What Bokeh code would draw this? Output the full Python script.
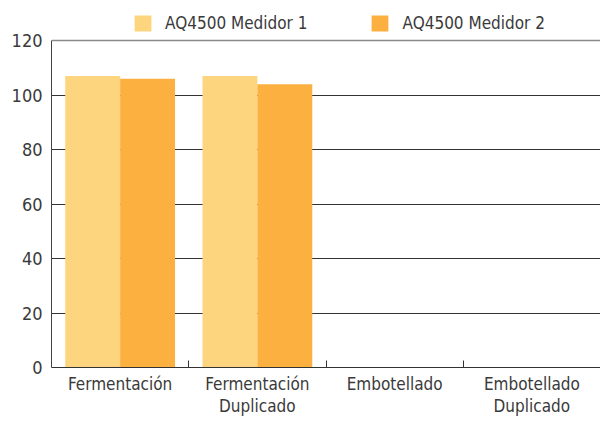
from bokeh.plotting import figure
from bokeh.models import (FactorRange, Range1d, LinearAxis, CategoricalAxis, FixedTicker,
                          Legend, LegendItem, Grid, ColumnDataSource, CustomLabelingPolicy)
from bokeh.transform import dodge
from bokeh.embed import file_html
from bokeh.resources import INLINE

categories = ["Fermentación", "Fermentación\nDuplicado", "Embotellado", "Embotellado\nDuplicado"]
series_names = ["AQ4500 Medidor 1", "AQ4500 Medidor 2"]
medidor1 = [107, 107, None, None]
medidor2 = [106, 104, None, None]
y_ticks = [0, 20, 40, 60, 80, 100, 120]
colors = ["#FDD57E", "#FBB040"]

FONT = "DejaVu Sans Condensed"
TXT = "#3a3a3a"

# the frame reaches the top of the canvas so that the legend (drawn inside it) is not clipped;
# the value axis itself is bounded to 0..120
p = figure(x_range=FactorRange(factors=categories, range_padding=0),
           y_range=Range1d(0, 134.7),
           width=600, height=421, output_backend="svg", toolbar_location=None,
           x_axis_location=None, y_axis_location=None,
           min_border_left=51, min_border_right=0, min_border_top=0, min_border_bottom=54)
p.outline_line_color = None
p.xgrid.visible = False
p.ygrid.visible = False

source = ColumnDataSource(dict(cat=categories, m1=medidor1, m2=medidor2))
r1 = p.vbar(x=dodge("cat", -0.2, range=p.x_range), top="m1", width=0.4, source=source,
            fill_color=colors[0], line_color=None)
r2 = p.vbar(x=dodge("cat", 0.2, range=p.x_range), top="m2", width=0.4, source=source,
            fill_color=colors[1], line_color=None)

p.add_layout(Grid(dimension=1, ticker=FixedTicker(ticks=y_ticks[1:-1]),
                  grid_line_color="#333333", grid_line_width=1), "center")
p.add_layout(Grid(dimension=1, ticker=FixedTicker(ticks=y_ticks[-1:]),
                  grid_line_color="#8a8a8a", grid_line_width=1.5), "center")

yax = LinearAxis(ticker=FixedTicker(ticks=y_ticks), bounds=(y_ticks[0], y_ticks[-1]),
                 major_tick_in=0, major_tick_out=0,
                 minor_tick_line_color=None, axis_line_color="#444444",
                 major_label_standoff=9, major_label_text_font=FONT,
                 major_label_text_font_size="18px", major_label_text_color=TXT)
p.add_layout(yax, "left")

no_labels = CustomLabelingPolicy(code="""
for (const i of indices) { indices.unset(i) }
return indices
""")
tax = LinearAxis(ticker=FixedTicker(ticks=list(range(1, len(categories)))),
                 major_tick_in=7, major_tick_out=0, minor_tick_line_color=None,
                 axis_line_color="#333333", major_tick_line_color="#333333",
                 major_label_policy=no_labels, major_label_text_font_size="1px",
                 major_label_standoff=0)
p.add_layout(tax, "below")

cax = CategoricalAxis(axis_line_color=None, major_tick_line_color=None, minor_tick_line_color=None,
                      major_tick_in=0, major_tick_out=0, major_label_standoff=2,
                      major_label_text_font=FONT, major_label_text_font_size="17px",
                      major_label_text_color=TXT, major_label_text_line_height=1.11)
p.add_layout(cax, "below")

legend = Legend(items=[LegendItem(label=series_names[0], renderers=[r1]),
                       LegendItem(label=series_names[1], renderers=[r2])],
                orientation="horizontal", location=(81, 334),
                glyph_width=21, glyph_height=20, label_height=20, label_standoff=12,
                spacing=62, padding=0, margin=0, border_line_color=None,
                background_fill_alpha=0, label_text_font=FONT, label_text_font_size="17px",
                label_text_color=TXT)
p.add_layout(legend, "center")

open("out.html", "w").write(file_html(p, INLINE))
